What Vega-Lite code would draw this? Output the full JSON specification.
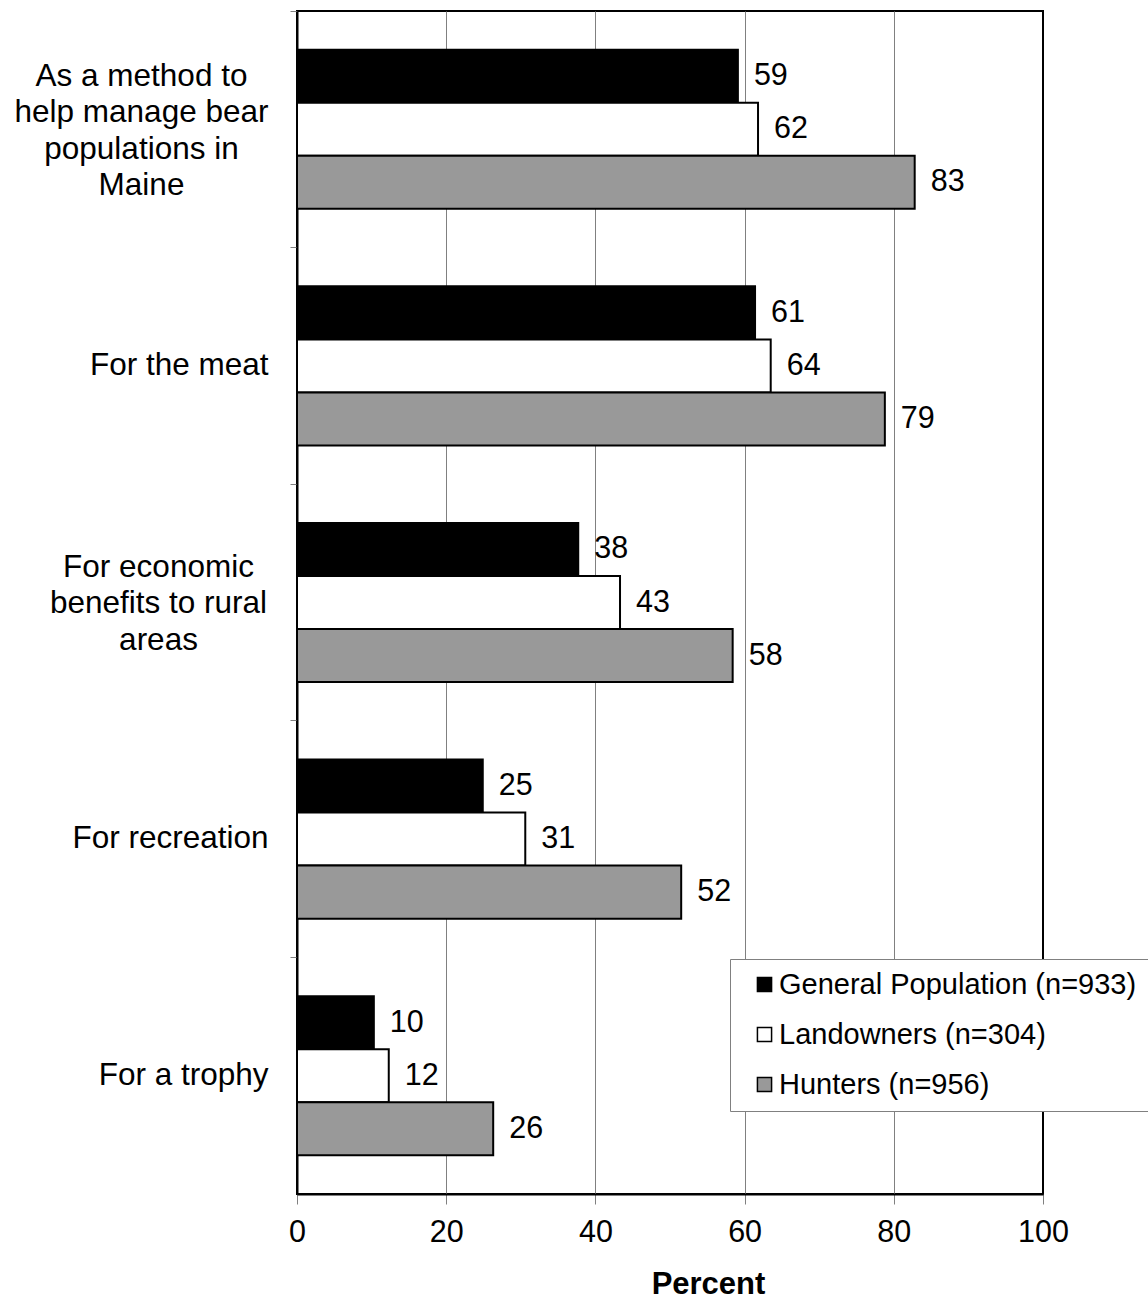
{
  "$schema": "https://vega.github.io/schema/vega-lite/v6.json",
  "width": 746,
  "height": 1183,
  "autosize": {"type": "none"},
  "padding": {"left": 297, "top": 11, "right": 105, "bottom": 107},
  "background": "white",
  "config": {
    "font": "Liberation Sans",
    "view": {"stroke": "black", "strokeWidth": 2}
  },
  "data": {
    "values": [
      {"category": "As a method to help manage bear populations in Maine", "group": "General Population (n=933)", "value": 59.1},
      {"category": "As a method to help manage bear populations in Maine", "group": "Landowners (n=304)", "value": 61.8},
      {"category": "As a method to help manage bear populations in Maine", "group": "Hunters (n=956)", "value": 82.8},
      {"category": "For the meat", "group": "General Population (n=933)", "value": 61.4},
      {"category": "For the meat", "group": "Landowners (n=304)", "value": 63.5},
      {"category": "For the meat", "group": "Hunters (n=956)", "value": 78.8},
      {"category": "For economic benefits to rural areas", "group": "General Population (n=933)", "value": 37.7},
      {"category": "For economic benefits to rural areas", "group": "Landowners (n=304)", "value": 43.3},
      {"category": "For economic benefits to rural areas", "group": "Hunters (n=956)", "value": 58.4},
      {"category": "For recreation", "group": "General Population (n=933)", "value": 24.9},
      {"category": "For recreation", "group": "Landowners (n=304)", "value": 30.6},
      {"category": "For recreation", "group": "Hunters (n=956)", "value": 51.5},
      {"category": "For a trophy", "group": "General Population (n=933)", "value": 10.3},
      {"category": "For a trophy", "group": "Landowners (n=304)", "value": 12.3},
      {"category": "For a trophy", "group": "Hunters (n=956)", "value": 26.3}
    ]
  },
  "encoding": {
    "y": {
      "field": "category",
      "type": "nominal",
      "sort": null,
      "scale": {"paddingInner": 0, "paddingOuter": 0},
      "axis": {
        "title": null,
        "labelExpr": "datum.label == 'As a method to help manage bear populations in Maine' ? ['As a method to', 'help manage bear', 'populations in', 'Maine'] : datum.label == 'For economic benefits to rural areas' ? ['For economic', 'benefits to rural', 'areas'] : datum.label",
        "labelFontSize": 31.5,
        "labelLineHeight": 36.5,
        "labelColor": "black",
        "labelPadding": {
          "condition": [
            {"test": "indexof(datum.value, 'Maine') >= 0", "value": 149},
            {"test": "indexof(datum.value, 'rural') >= 0", "value": 132}
          ],
          "value": 22
        },
        "labelAlign": {
          "condition": {"test": "indexof(datum.value, 'Maine') >= 0 || indexof(datum.value, 'rural') >= 0", "value": "center"},
          "value": "right"
        },
        "labelOffset": {
          "condition": [
            {"test": "indexof(datum.value, 'Maine') >= 0", "value": -52.5},
            {"test": "indexof(datum.value, 'rural') >= 0", "value": -35}
          ],
          "value": 0
        },
        "labelBaseline": "middle",
        "tickColor": "#808080",
        "tickSize": 7,
        "bandPosition": 0,
        "domainColor": "black",
        "domainWidth": 2,
        "grid": false,
        "labelLimit": 400
      }
    },
    "yOffset": {
      "field": "group",
      "type": "nominal",
      "sort": ["General Population (n=933)", "Landowners (n=304)", "Hunters (n=956)"],
      "scale": {"paddingInner": 0, "paddingOuter": 0.73}
    },
    "x": {
      "field": "value",
      "type": "quantitative",
      "scale": {"domain": [0, 100], "nice": false},
      "axis": {
        "title": "Percent",
        "titleFontSize": 31,
        "titleFontWeight": "bold",
        "titleColor": "black",
        "titleX": 411,
        "titlePadding": 22,
        "values": [0, 20, 40, 60, 80, 100],
        "labelFontSize": 30.5,
        "labelColor": "black",
        "labelPadding": 13,
        "labelFlush": false,
        "tickColor": "#808080",
        "tickSize": 10,
        "gridColor": "#808080",
        "gridWidth": 1,
        "gridOpacity": {"condition": {"test": "datum.value == 0 || datum.value == 100", "value": 0}, "value": 1},
        "domainColor": "black",
        "domainWidth": 2
      }
    }
  },
  "layer": [
    {
      "mark": {"type": "bar", "stroke": "black", "strokeWidth": 2, "cornerRadius": 0},
      "encoding": {
        "color": {
          "field": "group",
          "type": "nominal",
          "scale": {
            "domain": ["General Population (n=933)", "Landowners (n=304)", "Hunters (n=956)"],
            "range": ["#000000", "#ffffff", "#999999"]
          },
          "legend": {
            "title": null,
            "orient": "none",
            "legendX": 433,
            "legendY": 948,
            "fillColor": "white",
            "strokeColor": "#808080",
            "padding": 11,
            "symbolOffset": 9,
            "symbolType": "square",
            "symbolSize": 200,
            "symbolStrokeColor": "black",
            "symbolStrokeWidth": 1.5,
            "labelFontSize": 29,
            "labelColor": "black",
            "labelOffset": 0,
            "labelLimit": 500,
            "rowPadding": 20
          }
        }
      }
    },
    {
      "mark": {"type": "text", "align": "left", "baseline": "middle", "dx": 16, "fontSize": 30.5, "color": "black"},
      "encoding": {
        "text": {"field": "value", "type": "quantitative", "format": ".0f"}
      }
    }
  ]
}
